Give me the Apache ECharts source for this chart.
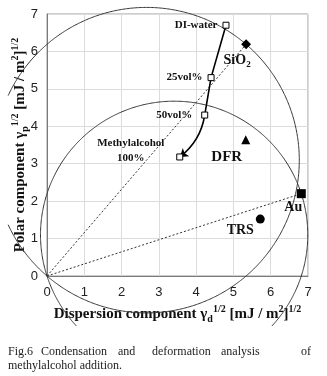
<!DOCTYPE html>
<html><head><meta charset="utf-8">
<script src="https://cdn.jsdelivr.net/npm/echarts@6/dist/echarts.min.js"></script>
<style>html,body{margin:0;padding:0;background:#fff}#c{width:327px;height:376px}</style>
</head><body><div id="c"></div>
<script>
// ---- data ----
const methLabels = ['DI-water', '25vol%', '50vol%', 'Methylalcohol\n100%'];
const methX = [4.80, 4.40, 4.23, 3.56];
const methY = [6.70, 5.30, 4.30, 3.18];
const sio2 = [5.34, 6.19];
const dfr = [5.33, 3.64];
const au = [6.82, 2.20];
const trs = [5.72, 1.52];
const xTicks = [0, 1, 2, 3, 4, 5, 6, 7];
const yTicks = [0, 1, 2, 3, 4, 5, 6, 7];

const SERIF = '"Liberation Serif","Times New Roman",serif';
const SANS = '"Liberation Sans",Arial,sans-serif';
const CLIP = {x0: 8, y1: 326};

function circleItem(params, api) {
  const p = api.coord([api.value(0), api.value(1)]);
  const o = api.coord([0, 0]);
  const cx = (p[0] + o[0]) / 2, cy = (p[1] + o[1]) / 2;
  const r = Math.hypot(p[0] - o[0], p[1] - o[1]) / 2;
  const segs = []; let cur = [];
  const N = 720;
  for (let i = 0; i <= N; i++) {
    const a = i / N * 2 * Math.PI;
    const x = cx + r * Math.cos(a), y = cy + r * Math.sin(a);
    if (x >= CLIP.x0 && y <= CLIP.y1) cur.push([x, y]);
    else { if (cur.length > 1) segs.push(cur); cur = []; }
  }
  if (cur.length > 1) segs.push(cur);
  return {type: 'group', children: segs.map(s => ({
    type: 'polyline', shape: {points: s},
    style: {stroke: '#333', fill: null, lineWidth: 1}
  }))};
}

const lblBold = (size) => ({fontFamily: SERIF, fontWeight: 'bold', fontSize: size, color: '#111'});
const richAxis = {
  b: {fontFamily: SERIF, fontWeight: 'bold', fontSize: 15, color: '#111', lineHeight: 20},
  sub: {fontFamily: SERIF, fontWeight: 'bold', fontSize: 10, color: '#111', verticalAlign: 'bottom', lineHeight: 20},
  sup: {fontFamily: SERIF, fontWeight: 'bold', fontSize: 10, color: '#111', verticalAlign: 'top', lineHeight: 20}
};
const capFont = '12px ' + SERIF;

const chart = echarts.init(document.getElementById('c'), null, {renderer: 'canvas'});
chart.setOption({
  animation: false,
  grid: {left: 47, top: 14, right: 19, bottom: 100, show: true, borderColor: '#9a9a9a', borderWidth: 1,
         containLabel: false, outerBoundsMode: 'none'},
  xAxis: {
    type: 'value', min: xTicks[0], max: xTicks[xTicks.length - 1], interval: 1,
    axisLine: {show: true, onZero: false, lineStyle: {color: '#7a7a7a', width: 1}},
    axisTick: {show: false},
    splitLine: {lineStyle: {color: '#dcdcdc', width: 1}},
    axisLabel: {fontFamily: SANS, fontSize: 13, color: '#222', margin: 10},
    name: '{b|Dispersion component γ}{sub|d}{sup|1/2}{b| [mJ / m}{sup|2}{b|]}{sup|1/2}',
    nameLocation: 'middle', nameGap: 28, nameMoveOverlap: false,
    nameTextStyle: {rich: richAxis}
  },
  yAxis: {
    type: 'value', min: yTicks[0], max: yTicks[yTicks.length - 1], interval: 1,
    axisLine: {show: true, onZero: false, lineStyle: {color: '#7a7a7a', width: 1}},
    axisTick: {show: false},
    splitLine: {lineStyle: {color: '#dcdcdc', width: 1}},
    axisLabel: {fontFamily: SANS, fontSize: 13, color: '#222', margin: 9},
    name: '{b|Polar component γ}{sub|p}{sup|1/2}{b| [mJ / m}{sup|2}{b|]}{sup|1/2}',
    nameLocation: 'middle', nameGap: 17, nameRotate: 90, nameMoveOverlap: false,
    nameTextStyle: {rich: richAxis}
  },
  series: [
    {type: 'custom', renderItem: circleItem, clip: false, silent: true, z: 1,
     data: [sio2, au]},
    {type: 'line', symbol: 'none', z: 2, silent: true,
     lineStyle: {color: '#333', width: 1, type: [2, 2]},
     data: [[0, 0], sio2]},
    {type: 'line', symbol: 'none', z: 2, silent: true,
     lineStyle: {color: '#333', width: 1, type: [2, 2]},
     data: [[0, 0], au]},
    {type: 'line', z: 4, symbol: 'none',
     lineStyle: {color: '#000', width: 1.6},
     data: methX.slice(0, 3).map((x, i) => [x, methY[i]])},
    {type: 'lines', coordinateSystem: 'cartesian2d', z: 4,
     symbol: ['none', 'arrow'], symbolSize: 8,
     lineStyle: {color: '#000', width: 1.6, curveness: 0.2, opacity: 1},
     data: [{coords: [[methX[2], methY[2]], [methX[3], methY[3]]]}]},
    {type: 'scatter', z: 5, symbol: 'rect', symbolSize: 6,
     itemStyle: {color: '#fff', borderColor: '#000', borderWidth: 1, opacity: 1},
     data: methX.map((x, i) => {
       const isLast = i === 3;
       return {value: [x, methY[i]], label: {
         show: true, formatter: methLabels[i], position: isLast ? 'inside' : 'left',
         distance: isLast ? 0 : (i === 2 ? 9 : 5),
         offset: isLast ? [-49, -6] : [0, 0],
         align: isLast ? 'center' : 'right', lineHeight: 15,
         ...lblBold(11)
       }};
     })},
    {type: 'scatter', z: 5, symbol: 'rect', symbolRotate: 45, symbolSize: 7,
     itemStyle: {color: '#000', opacity: 1},
     label: {show: true, position: 'inside', offset: [-9, 16],
       formatter: '{b|SiO}{s|2}',
       rich: {b: lblBold(14), s: {...lblBold(9), verticalAlign: 'bottom', lineHeight: 18}}},
     data: [sio2]},
    {type: 'scatter', z: 5, symbol: 'triangle', symbolSize: 9,
     itemStyle: {color: '#000', opacity: 1},
     label: {show: true, position: 'inside', offset: [-19, 17], formatter: 'DFR', ...lblBold(15)},
     data: [dfr]},
    {type: 'scatter', z: 5, symbol: 'rect', symbolSize: 9,
     itemStyle: {color: '#000', opacity: 1},
     label: {show: true, position: 'inside', offset: [-8, 14], formatter: 'Au', ...lblBold(14)},
     data: [au]},
    {type: 'scatter', z: 5, symbol: 'circle', symbolSize: 9,
     itemStyle: {color: '#000', opacity: 1},
     label: {show: true, position: 'inside', offset: [-20, 11], formatter: 'TRS', ...lblBold(14)},
     data: [trs]}
  ],
  graphic: [
    {type: 'text', left: 8, top: 346, style: {text: 'Fig.6', font: capFont, fill: '#222'}},
    {type: 'text', left: 41, top: 346, style: {text: 'Condensation', font: capFont, fill: '#222'}},
    {type: 'text', left: 118, top: 346, style: {text: 'and', font: capFont, fill: '#222'}},
    {type: 'text', left: 152, top: 346, style: {text: 'deformation', font: capFont, fill: '#222'}},
    {type: 'text', left: 221, top: 346, style: {text: 'analysis', font: capFont, fill: '#222'}},
    {type: 'text', left: 301, top: 346, style: {text: 'of', font: capFont, fill: '#222'}},
    {type: 'text', left: 8, top: 360, style: {text: 'methylalcohol addition.', font: capFont, fill: '#222'}}
  ]
});
</script>
</body></html>
